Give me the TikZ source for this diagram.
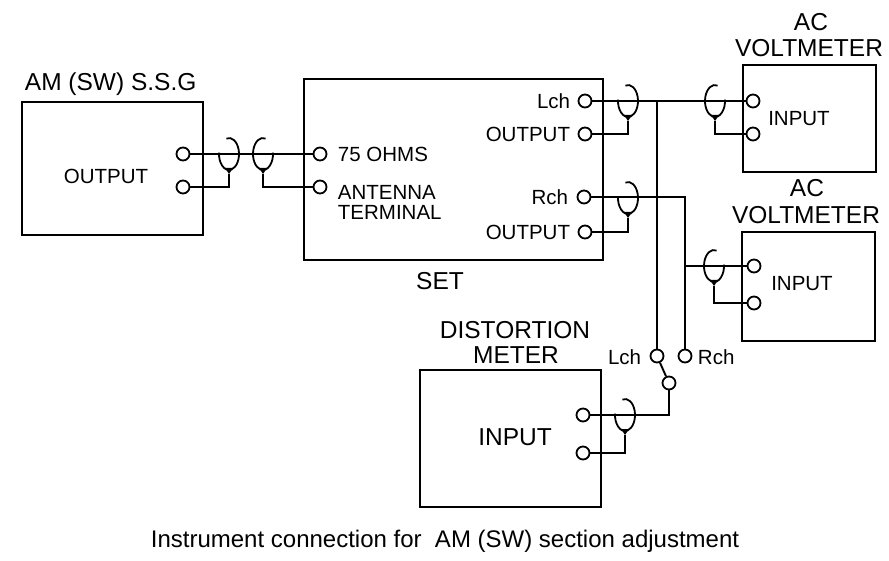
\documentclass[tikz,border=0pt]{standalone}
\usepackage{fontspec}
\setmainfont{Liberation Sans}
\begin{document}
\begin{tikzpicture}[x=1pt,y=-1pt,line width=1.9pt,
  box/.style={draw,line width=1.9pt,inner sep=0pt,outer sep=0pt,anchor=north west},
  term/.style={circle,draw,fill=white,minimum size=13pt,inner sep=0pt,line width=1.8pt},
  ttl/.style={font=\fontsize{24.5}{26}\selectfont,inner sep=0pt},
  lbl/.style={font=\fontsize{20.5}{21}\selectfont,inner sep=0pt},
  captxt/.style={font=\fontsize{24}{26}\selectfont,inner sep=0pt},
  shieldL/.pic={
    \draw[line width=1.8pt] (105:10pt and 16pt) arc[start angle=105,end angle=-185,x radius=10pt,y radius=16pt];
    \fill (-4pt,-14pt) -- (4pt,-14pt) -- (0pt,-20pt) -- cycle;
    \coordinate (-b) at (0pt,-20pt);
  },
  shieldR/.pic={
    \draw[line width=1.8pt] (75:10pt and 16pt) arc[start angle=75,end angle=365,x radius=10pt,y radius=16pt];
    \fill (-4pt,-14pt) -- (4pt,-14pt) -- (0pt,-20pt) -- cycle;
    \coordinate (-b) at (0pt,-20pt);
  }
]
\useasboundingbox (0,0) rectangle (889,561);

% boxes
\node[box,minimum width=181pt,minimum height=133pt] (ssg) at (22,102) {};
\node[box,minimum width=299pt,minimum height=181pt] (set) at (304,79) {};
\node[box,minimum width=133pt,minimum height=107pt] (ac1) at (743,65) {};
\node[box,minimum width=133pt,minimum height=109pt] (ac2) at (742,232) {};
\node[box,minimum width=181pt,minimum height=137pt] (dm) at (420,370) {};

% titles and labels
\node[ttl,anchor=base west] (ssgt) at (24,91) {AM (SW) S.S.G};
\node[lbl] (ssgo) at (106,176) {OUTPUT};
\node[lbl,anchor=west] (l75) at (337,154) {75 OHMS};
\node[lbl,anchor=west] (lant) at (337,192) {ANTENNA};
\node[lbl,anchor=west] (lterm) at (337,212) {TERMINAL};
\node[lbl,anchor=east] (llch) at (571,101) {Lch};
\node[lbl,anchor=east] (lout1) at (571,134) {OUTPUT};
\node[lbl,anchor=east] (lrch) at (569,197) {Rch};
\node[lbl,anchor=east] (lout2) at (571,232) {OUTPUT};
\node[ttl] (sett) at (440,281) {SET};
\node[ttl] (ac1a) at (811,22) {AC};
\node[ttl] (ac1b) at (809,48) {VOLTMETER};
\node[lbl] (ac1i) at (799,119) {INPUT};
\node[ttl] (ac2a) at (807,188) {AC};
\node[ttl] (ac2b) at (806,215) {VOLTMETER};
\node[lbl] (ac2i) at (802,284) {INPUT};
\node[ttl] (dma) at (515,330) {DISTORTION};
\node[ttl] (dmb) at (516,355) {METER};
\node[ttl] (dmi) at (515,437) {INPUT};
\node[lbl,anchor=east] (swll) at (642,357) {Lch};
\node[lbl,anchor=west] (swrl) at (697,357) {Rch};
\node[captxt] (caption) at (445,541) {Instrument connection for\ \ AM (SW) section adjustment};

% terminals
\node[term] (so1) at (183,154) {};
\node[term] (so2) at (183,187) {};
\node[term] (st1) at (320,154) {};
\node[term] (st2) at (320,187) {};
\node[term] (lt) at (585,101) {};
\node[term] (lo) at (585,134) {};
\node[term] (rt) at (584,197) {};
\node[term] (ro) at (585,232) {};
\node[term] (a1) at (753,101) {};
\node[term] (a1b) at (753,134) {};
\node[term] (a2) at (754,266) {};
\node[term] (a2b) at (754,303) {};
\node[term] (swL) at (657,356) {};
\node[term] (swR) at (685,356) {};
\node[term] (swC) at (669,383) {};
\node[term] (d1) at (583,415) {};
\node[term] (d2) at (583,453) {};

% shields
\pic (s1) at (229,154) {shieldL};
\pic (s2) at (263,154) {shieldR};
\pic (s3) at (628,101) {shieldL};
\pic (s4) at (715,101) {shieldR};
\pic (s5) at (628,198) {shieldL};
\pic (s6) at (714,266) {shieldR};
\pic (s7) at (625,415) {shieldL};

\coordinate (jL) at (657,101);
\coordinate (jR) at (685,266);

% wires
\draw (so1) -- (st1);
\draw (so2) -| (s1-b);
\draw (s2-b) |- (st2);
\draw (lt) -- (a1);
\draw (s3-b) |- (lo);
\draw (s4-b) |- (a1b);
\draw (jL) -- (swL);
\draw (rt) -| (swR);
\draw (s5-b) |- (ro);
\draw (jR) -- (a2);
\draw (s6-b) |- (a2b);
\draw (swL) -- (swC);
\draw (swC) |- (d1);
\draw (s7-b) |- (d2);
\end{tikzpicture}
\end{document}
